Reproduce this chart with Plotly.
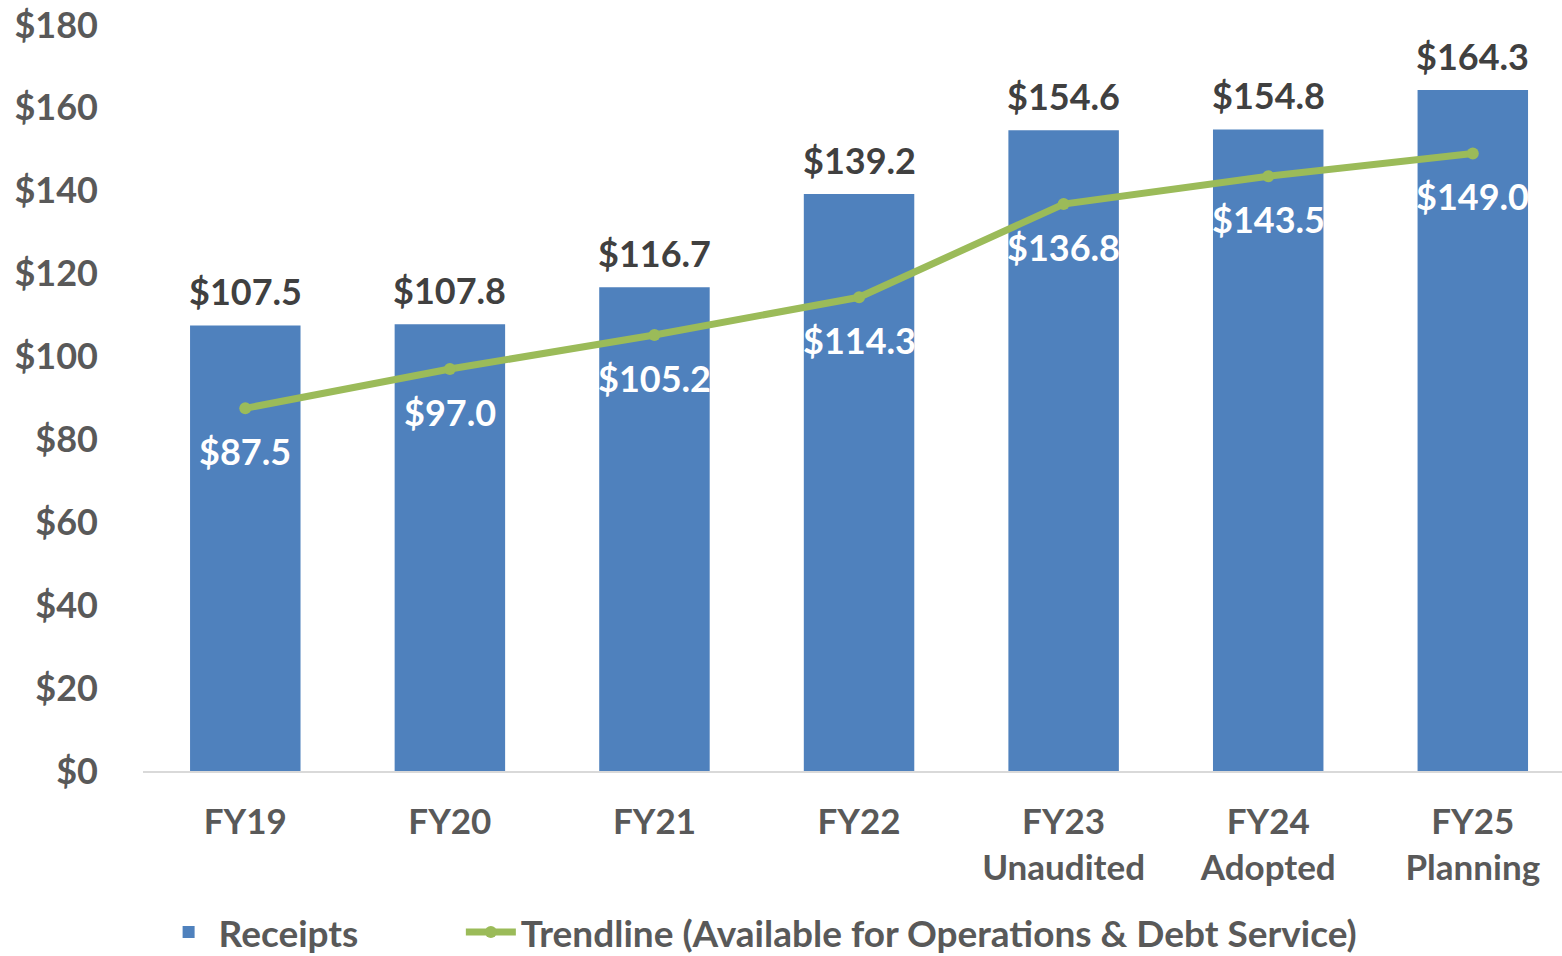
import plotly.graph_objects as go

categories = ["FY19", "FY20", "FY21", "FY22", "FY23<br>Unaudited", "FY24<br>Adopted", "FY25<br>Planning"]
receipts = [107.5, 107.8, 116.7, 139.2, 154.6, 154.8, 164.3]
trendline = [87.5, 97.0, 105.2, 114.3, 136.8, 143.5, 149.0]
y_ticks = [0, 20, 40, 60, 80, 100, 120, 140, 160, 180]
y_tick_labels = ["$" + str(v) for v in y_ticks]

FONT = "Lato"
BAR_C = "#4F81BD"
LINE_C = "#9BBB59"
TXT = "#595959"

fig = go.Figure()
fig.add_trace(go.Bar(
    x=categories, y=receipts, name="Receipts",
    marker=dict(color=BAR_C, line=dict(width=0)),
    width=0.54, legend="legend",
))
fig.add_trace(go.Scatter(
    x=categories, y=trendline, name="Trendline (Available for Operations & Debt Service)",
    mode="lines+markers",
    line=dict(color=LINE_C, width=7),
    marker=dict(color=LINE_C, size=12),
    legend="legend2",
))

annotations = []
for c, v in zip(categories, receipts):
    annotations.append(dict(
        x=c, y=v, text=f"${v:.1f}", showarrow=False, yanchor="bottom",
        yshift=10, font=dict(family=FONT, size=36, color="#404040", weight="bold"),
    ))
for c, v in zip(categories, trendline):
    annotations.append(dict(
        x=c, y=v, text=f"${v:.1f}", showarrow=False, yanchor="top",
        yshift=-19, font=dict(family=FONT, size=36, color="white", weight="bold"),
    ))

legend_font = dict(family=FONT, size=37, color=TXT, weight="bold")

fig.update_layout(
    width=1562, height=956,
    margin=dict(l=143, r=0, t=25, b=185, autoexpand=False),
    plot_bgcolor="white", paper_bgcolor="white",
    font=dict(family=FONT, size=35, color=TXT, weight="bold"),
    bargap=0.46,
    showlegend=True,
    legend=dict(orientation="h", x=0.011, y=-0.175, xanchor="left", yanchor="top",
                font=legend_font, itemwidth=50),
    legend2=dict(orientation="h", x=0.224, y=-0.175, xanchor="left", yanchor="top",
                 font=legend_font, itemwidth=50),
    annotations=annotations,
    xaxis=dict(
        range=[-0.5, 6.436], showgrid=False, showline=True, linecolor="#D9D9D9", linewidth=2,
        ticks="", ticklabelstandoff=19,
        tickfont=dict(family=FONT, size=35, color=TXT, weight="bold"),
    ),
    yaxis=dict(
        range=[0, 180], tickvals=y_ticks, ticktext=y_tick_labels, showgrid=False,
        zeroline=False, showline=False, ticks="", ticklabelstandoff=44,
        tickfont=dict(family=FONT, size=36, color=TXT, weight="bold"),
    ),
)

fig.write_html("out.html")
